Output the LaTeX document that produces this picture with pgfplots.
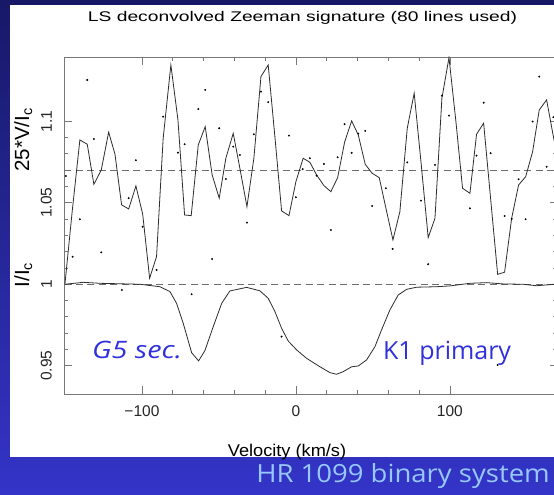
\documentclass[border=0pt]{standalone}
\usepackage{pgfplots}
\pgfplotsset{compat=1.18}
\usepackage{graphicx}
\usepackage{fontspec}
\setmainfont{Liberation Sans}
\newfontfamily\comic{Open Sans}
\definecolor{bgtop}{RGB}{24,24,104}
\definecolor{bgbot}{RGB}{52,52,200}
\definecolor{annblue}{RGB}{48,48,220}
\definecolor{hrblue}{RGB}{150,200,255}
\definecolor{axgray}{RGB}{120,120,120}
\definecolor{linegray}{RGB}{45,45,45}
\definecolor{dashgray}{RGB}{110,110,110}
\begin{document}
\begin{tikzpicture}
\useasboundingbox (0pt,0pt) rectangle (554pt,495pt);
\clip (0pt,0pt) rectangle (554pt,495pt);
\shade[top color=bgtop, bottom color=bgbot] (0pt,0pt) rectangle (554pt,495pt);
\fill[white] (9.5pt,38pt) rectangle (560pt,490pt);
\begin{axis}[
  at={(64pt,101pt)}, anchor=south west,
  scale only axis, width=493.7pt, height=337pt,
  xmin=-150.6, xmax=170, ymin=0.9327, ymax=1.1394,
  axis line style={axgray, line width=0.8pt},
  every tick/.style={axgray, line width=0.8pt},
  tick align=inside,
  major tick length=7.7pt, minor tick length=4.3pt,
  xtick={-100,0,100}, xticklabels={−100,0,100},
  minor x tick num=4,
  ytick={0.95,1,1.05,1.1}, yticklabels={0.95,1,1.05,1.1},
  minor y tick num=4,
  tick label style={font=\fontsize{15.5}{17}\selectfont, text=black!85},
  xticklabel style={anchor=north, inner sep=0pt},
  xticklabel shift=11.7pt,
  yticklabel style={rotate=90, anchor=south, inner sep=0pt},
  yticklabel shift=12pt,
  title={\scalebox{1.375}[1]{LS deconvolved Zeeman signature (80 lines used)}},
  title style={at={(axis description cs:0.4831,1)}, anchor=base, yshift=29.3pt, font=\fontsize{14}{16}\selectfont, inner sep=0pt},
  xlabel={\scalebox{1.07}[1]{Velocity (km/s)}},
  xlabel style={at={(axis description cs:0.4517,0)}, anchor=base, yshift=-63pt, font=\fontsize{17}{19}\selectfont, inner sep=0pt},
]
\addplot[dashgray, dash pattern=on 7pt off 4.5pt, line width=0.8pt] coordinates {(-150.6,1) (170,1)};
\addplot[dashgray, dash pattern=on 7pt off 4.5pt, line width=0.8pt] coordinates {(-150.6,1.07) (170,1.07)};
% Stokes V (scaled, offset)
\addplot[linegray, line width=0.8pt] table {
-150.0 1.000
-145.3 1.0445
-140.3 1.0885
-135.5 1.0859
-131.2 1.0613
-126.4 1.0701
-121.6 1.0933
-117.5 1.0798
-113.2 1.0487
-108.6 1.0462
-103.9 1.0603
-99.5 1.043
-95.0 1.0037
-90.5 1.017
-86.2 1.0896
-81.2 1.1345
-76.6 1.1008
-72.3 1.0425
-68.0 1.0421
-63.4 1.0855
-58.9 1.0967
-54.4 1.0671
-49.8 1.0528
-45.5 1.0773
-40.7 1.0926
-36.4 1.0712
-31.8 1.0476
-27.3 1.0773
-22.7 1.1274
-18.0 1.1345
-13.6 1.090
-9.3 1.045
-4.5 1.0421
0.0 1.063
4.7 1.0773
9.1 1.0748
13.4 1.0671
18.2 1.0605
22.7 1.0568
27.1 1.0654
31.6 1.0871
36.2 1.1002
40.5 1.0916
45.0 1.0736
49.5 1.0681
54.1 1.0654
58.6 1.046
63.0 1.0272
67.5 1.0445
72.3 1.0957
76.8 1.1172
81.4 1.0732
85.9 1.0286
90.3 1.0405
94.8 1.1141
99.4 1.139
103.9 1.0998
108.2 1.0589
113.0 1.0558
117.3 1.092
121.9 1.0988
126.4 1.0528
131.0 1.0061
135.5 1.0074
140.1 1.0405
144.6 1.0609
149.2 1.066
153.7 1.0813
158.0 1.1069
162.8 1.1131
167.3 1.090
171.8 1.070
};
% individual V points
\addplot[only marks, mark=*, mark size=0.75pt, black] table {
-135.5 1.1253
-149.4 1.0664
-131.2 1.0891
-103.9 1.0761
-108.6 1.0528
-140.3 1.0399
-99.5 1.0353
-145.0 1.0169
-126.4 1.0196
-113.0 0.9965
-86.2 1.1028
-76.6 1.0807
-72.3 1.0859
-63.4 1.1075
-58.9 1.1192
-49.8 1.0957
-90.5 1.0088
-54.4 1.0155
-67.7 0.9939
-45.5 1.0646
-40.7 1.0844
-36.4 1.0793
-31.8 1.0378
-27.3 1.092
-22.7 1.1182
-18.0 1.1117
-4.5 1.0912
0.0 1.0534
4.4 1.0706
-9.3 0.9679
9.1 1.0773
13.4 1.0666
18.2 1.0738
22.7 1.0333
27.1 1.0779
31.6 1.0982
36.2 1.0806
40.5 1.0924
45.0 1.0941
49.5 1.048
58.4 1.0589
62.8 1.0217
72.3 1.0748
81.2 1.0513
85.9 1.0123
90.3 1.0732
94.8 1.1157
99.4 1.1034
113.0 1.0466
117.3 1.0789
121.9 1.1114
126.4 1.0804
131.0 0.9505
135.5 1.0419
140.1 1.0401
144.6 1.0644
149.2 1.0399
153.7 1.0998
158.0 1.1274
162.8 1.0721
167.2 1.1025
};
% Stokes I
\addplot[linegray, line width=0.8pt] table {
-150.0 1.000
-138.1 1.0012
-127.3 1.0006
-114.3 1.0003
-101.3 1.000
-88.3 0.9985
-81.8 0.9955
-77.5 0.9883
-73.2 0.9761
-67.7 0.958
-63.2 0.953
-59.1 0.9593
-53.7 0.974
-48.2 0.9883
-42.9 0.9959
-32.0 0.9981
-23.4 0.9960
-18.0 0.9914
-13.6 0.9832
-9.3 0.973
-5.0 0.9652
0.5 0.9597
6.9 0.9546
15.6 0.9494
22.1 0.9458
26.4 0.9448
30.7 0.9464
36.2 0.9494
40.5 0.9499
45.9 0.9536
51.3 0.9617
55.6 0.972
61.0 0.9842
66.4 0.9934
71.9 0.9969
78.4 0.9982
91.4 0.9985
100.0 0.999
113.0 1.0006
123.8 1.001
134.6 1.0002
147.6 1.000
156.3 0.9991
162.8 0.9996
168.0 1.000
};
\node[anchor=base west, font=\comic\itshape\fontsize{24}{26}\selectfont, text=annblue, inner sep=0pt] at (axis cs:-132.5,0.9542) {\scalebox{1.2}[1]{G5 sec.}};
\node[anchor=base west, font=\comic\fontsize{25}{27}\selectfont, text=annblue, inner sep=0pt] at (axis cs:56.5,0.9536) {K1 primary};
\end{axis}
\node[rotate=90, anchor=base, font=\fontsize{20.5}{22}\selectfont, inner sep=0pt] at (29pt,355pt) {25*V/I\textsubscript{c}};
\node[rotate=90, anchor=base, font=\fontsize{20.5}{22}\selectfont, inner sep=0pt] at (29pt,220pt) {I/I\textsubscript{c}};
\node[anchor=base, font=\comic\fontsize{25}{27}\selectfont, text=hrblue, inner sep=0pt] at (403pt,12pt) {\scalebox{1.1}[1]{HR 1099 binary system}};
\end{tikzpicture}
\end{document}
